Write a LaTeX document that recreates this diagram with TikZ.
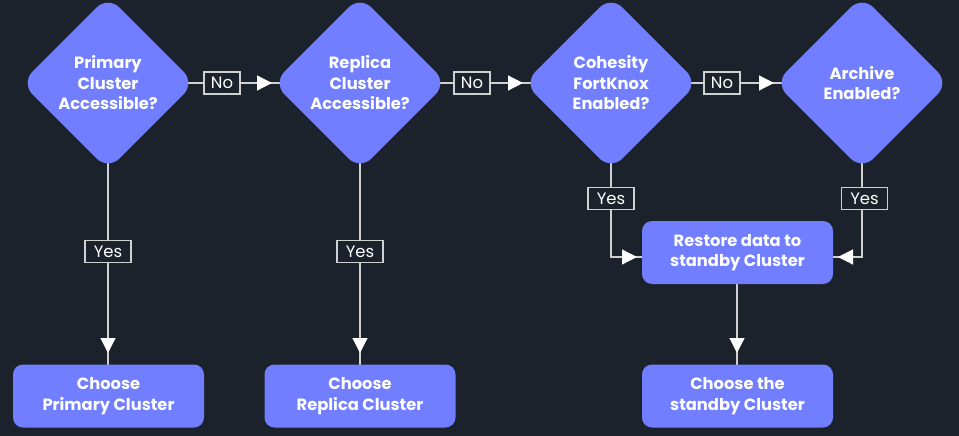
\documentclass[tikz,border=0pt]{standalone}
\usepackage{fontspec}
\setmainfont{Poppins}
\usetikzlibrary{shapes.geometric,arrows.meta}
\definecolor{bgc}{HTML}{1C222B}
\definecolor{nodec}{HTML}{707EFF}
\definecolor{linec}{HTML}{D0D0D0}
\begin{document}
\begin{tikzpicture}[x=1pt,y=-1pt,
  decision/.style={diamond, fill=nodec, draw=none, minimum width=174pt, minimum height=174pt, inner sep=0pt, rounded corners=16pt, text=white, font=\fontsize{16.3}{20.5}\selectfont\bfseries, align=center},
  action/.style={rectangle, fill=nodec, draw=none, minimum width=191pt, minimum height=63pt, rounded corners=10pt, text=white, font=\fontsize{16.3}{20.5}\selectfont\bfseries, align=center},
  lab/.style={fill=bgc, draw=linec, line width=1.1pt, text=white, font=\fontsize{16.5}{17}\selectfont, inner sep=0pt, minimum height=22pt},
  conn/.style={draw=linec, line width=1.2pt},
  arr/.style={draw=linec, line width=1.2pt, -{Triangle[length=15pt,width=15pt,fill=white,color=white]}},
]
\fill[bgc] (0,0) rectangle (959,436);
\useasboundingbox (0,0) rectangle (959,436);

% coordinates for connector routing
\coordinate (c1) at (108,83);
\coordinate (c2) at (360,83);
\coordinate (c3) at (611,83);
\coordinate (c4) at (862,83);
\coordinate (k3) at (611,257);
\coordinate (k4) at (862,257);

% connectors (drawn behind)
\draw[conn] (c1) -- (c2);
\draw[conn] (c2) -- (c3);
\draw[conn] (c3) -- (c4);
\draw[conn] (c1) -- (108,396);
\draw[conn] (c2) -- (360,396);
\draw[conn] (c3) -- (k3) -- (737,257);
\draw[conn] (c4) -- (k4) -- (737,257);
\draw[conn] (737,252) -- (737,396);

% nodes
\node[decision] (d1) at (c1) {Primary\\Cluster\\Accessible?};
\node[decision] (d2) at (c2) {Replica\\Cluster\\Accessible?};
\node[decision] (d3) at (c3) {Cohesity\\FortKnox\\Enabled?};
\node[decision] (d4) at (c4) {Archive\\Enabled?};
\node[action] (b1) at (108.5,396) {Choose\\Primary Cluster};
\node[action] (b2) at (360,396) {Choose\\Replica Cluster};
\node[action] (r) at (737.5,252.5) {Restore data to\\standby Cluster};
\node[action] (b3) at (737.5,396) {Choose the\\standby Cluster};

% arrowheads
\draw[arr] (240,83) -- (272,83);
\draw[arr] (490,83) -- (523,83);
\draw[arr] (740,83) -- (774,83);
\draw[arr] (108,300) -- (108,353);
\draw[arr] (360,300) -- (360,353);
\draw[arr] (737,300) -- (737,353);
\draw[arr] (611,257) -- (637,257);
\draw[arr] (862,257) -- (838,257);

% labels
\node[lab, minimum width=36pt] (n1) at (222,83) {No};
\node[lab, minimum width=36pt] (n2) at (472,83) {No};
\node[lab, minimum width=36pt] (n3) at (722,83) {No};
\node[lab, minimum width=46pt] (y1) at (108,251.5) {Yes};
\node[lab, minimum width=46pt] (y2) at (360,251.5) {Yes};
\node[lab, minimum width=46pt] (y3) at (611,198.5) {Yes};
\node[lab, minimum width=46pt] (y4) at (864.5,198.5) {Yes};
\end{tikzpicture}
\end{document}
